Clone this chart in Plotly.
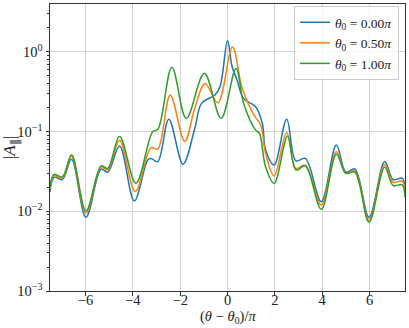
import plotly.graph_objects as go

# values (x in units of pi, y = |A_par|)
x_t0 = [-7.5, -7.33, -6.98, -6.59, -5.98, -5.34, -5.06, -4.56, -3.94, -3.37, -3.23, -2.95,
        -2.48, -1.88, -1.38, -1.09, -0.53, -0.31, 0.0, 0.19, 0.4, 0.68, 1.18, 1.47, 1.61,
        1.97, 2.5, 2.89, 3.29, 3.96, 4.6, 5.0, 5.38, 5.98, 6.64, 7.0, 7.38, 7.5]
y_t0 = [0.0175, 0.0267, 0.025, 0.045, 0.0084, 0.0338, 0.031, 0.066, 0.0135, 0.044, 0.046, 0.042,
        0.143, 0.039, 0.11, 0.227, 0.288, 0.37, 1.39, 0.66, 0.445, 0.26, 0.206, 0.127, 0.059,
        0.038, 0.143, 0.043, 0.046, 0.0132, 0.068, 0.031, 0.034, 0.0084, 0.042, 0.025, 0.026, 0.019]

x_t05 = [-7.5, -7.33, -6.98, -6.59, -5.98, -5.34, -5.06, -4.56, -3.9, -3.23, -2.95, -2.42,
         -1.81, -1.38, -0.95, -0.41, 0.21, 0.62, 1.11, 1.4, 1.61, 1.97, 2.5, 2.89, 3.29,
         3.96, 4.6, 5.0, 5.38, 5.98, 6.64, 7.0, 7.38, 7.5]
y_t05 = [0.019, 0.028, 0.026, 0.049, 0.0095, 0.036, 0.033, 0.078, 0.0177, 0.063, 0.06, 0.288,
         0.075, 0.197, 0.40, 0.23, 1.15, 0.35, 0.162, 0.121, 0.053, 0.0278, 0.097, 0.0346, 0.038,
         0.012, 0.056, 0.030, 0.032, 0.0078, 0.039, 0.023, 0.024, 0.017]

x_t1 = [-7.5, -7.33, -6.98, -6.59, -5.98, -5.34, -5.06, -4.56, -3.87, -3.16, -2.94, -2.35,
        -1.74, -0.98, -0.27, 0.36, 0.68, 1.18, 1.35, 1.61, 1.97, 2.54, 2.89, 3.29, 3.96,
        4.6, 5.0, 5.38, 5.98, 6.64, 7.0, 7.38, 7.5]
y_t1 = [0.02, 0.029, 0.027, 0.051, 0.0101, 0.037, 0.0345, 0.087, 0.0225, 0.1, 0.107, 0.64,
        0.147, 0.54, 0.147, 0.62, 0.227, 0.105, 0.095, 0.036, 0.0224, 0.088, 0.033, 0.037, 0.0106,
        0.052, 0.030, 0.031, 0.0073, 0.036, 0.021, 0.0215, 0.015]

series = [
    (x_t0, y_t0, "0.00", "#1f77b4"),
    (x_t05, y_t05, "0.50", "#ff7f0e"),
    (x_t1, y_t1, "1.00", "#2ca02c"),
]

# minor ticks of the log axis: 2..9 in each decade
minor_vals = [k * 10.0 ** e for e in (-3, -2, -1, 0) for k in range(2, 10) if k * 10.0 ** e < 4]

fig = go.Figure()
for xs, ys, lab, col in series:
    fig.add_trace(go.Scatter(
        x=xs, y=ys, mode="lines",
        name=f"<i>θ</i><sub>0</sub> = {lab}<i>π</i>",
        line=dict(color=col, width=1.5, shape="spline", smoothing=1.0),
    ))

axis_style = dict(
    showline=True, linecolor="#333", linewidth=1, mirror=True,
    ticks="outside", ticklen=3.5, tickcolor="#333",
    showgrid=True, gridcolor="#d3d3d3", gridwidth=1,
    zeroline=False,
)

fig.update_layout(
    width=409, height=328,
    margin=dict(l=50, r=4, t=4, b=37),
    paper_bgcolor="white", plot_bgcolor="white",
    font=dict(family="Liberation Serif", size=14.5, color="#222"),
    showlegend=True,
    legend=dict(
        x=0.983, y=0.993, xanchor="right", yanchor="top",
        bordercolor="#ccc", borderwidth=1, bgcolor="rgba(255,255,255,0.8)",
        font=dict(size=13.5), tracegroupgap=0, itemwidth=30,
    ),
    xaxis=dict(
        range=[-7.5, 7.5], tickvals=[-6, -4, -2, 0, 2, 4, 6],
        ticklabelstandoff=-8,
        **axis_style,
    ),
    yaxis=dict(
        type="log", range=[-3, 0.6],
        tickvals=[0.001, 0.01, 0.1, 1],
        ticktext=["10<sup>−3</sup>", "10<sup>−2</sup>", "10<sup>−1</sup>", "10<sup>0</sup>"],
        minor=dict(ticks="outside", ticklen=2, tickcolor="#333", showgrid=False,
                   tickvals=minor_vals),
        title=dict(text="|<i>A</i><sub>∥</sub>|", standoff=0),
        **axis_style,
    ),
    annotations=[dict(
        text="(<i>θ</i> − <i>θ</i><sub>0</sub>)/<i>π</i>",
        xref="paper", yref="paper", x=0.5, y=-0.09,
        xanchor="center", yanchor="middle", showarrow=False,
        font=dict(size=14.5),
    )],
)

# drop the browser's default body margin so the figure fills the window exactly
fig.write_html("out.html", config={"displayModeBar": False},
               post_script="document.body.style.margin='0';document.body.style.overflow='hidden';")
